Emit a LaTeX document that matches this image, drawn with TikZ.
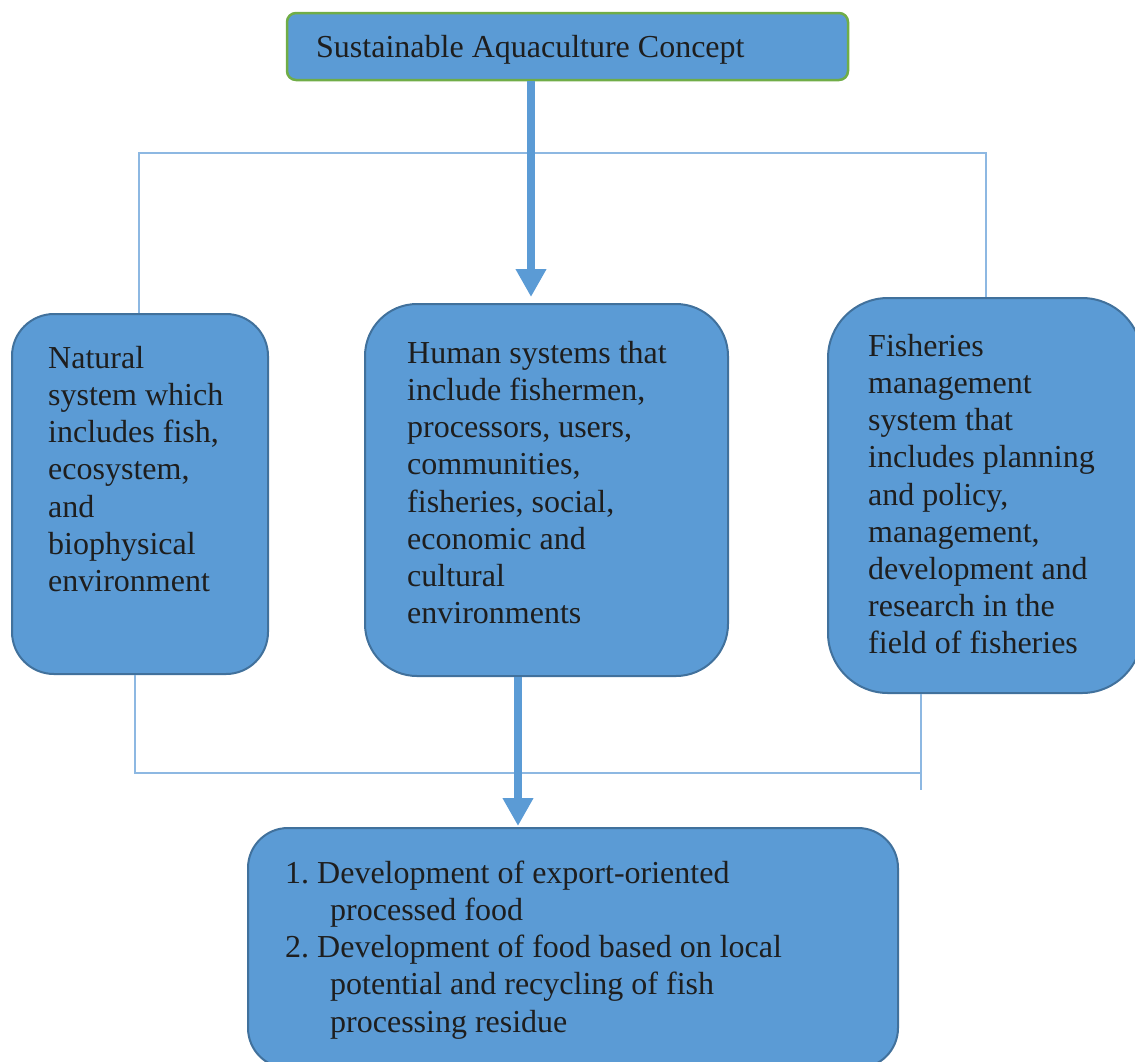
\documentclass[tikz,border=0pt]{standalone}
\usepackage{fontspec}
\setmainfont{Liberation Serif}
\usetikzlibrary{arrows.meta,calc}
\definecolor{boxfill}{HTML}{5B9BD5}
\definecolor{boxline}{HTML}{41719C}
\definecolor{topline}{HTML}{70AD47}
\definecolor{connline}{HTML}{8DB8E2}
\definecolor{txt}{HTML}{1E1E1E}
\tikzset{
  panel/.style={draw=boxline, line width=2pt, fill=boxfill, rectangle, inner sep=0pt},
  headbox/.style={draw=topline, line width=2.5pt, fill=boxfill, rectangle, rounded corners=9pt, inner sep=0pt},
  body/.style={anchor=north west, inner sep=0pt, align=left, text=txt,
    font=\fontsize{32}{37.2}\selectfont},
  conn/.style={draw=connline, line width=2pt},
  bigarrow/.style={draw=boxfill, line width=8pt, -{Triangle[width=29pt,length=28pt]}, fill=boxfill}
}
\newcommand{\firstline}{\rule{0pt}{25pt}}
\begin{document}
\begin{tikzpicture}[x=1pt,y=-1pt]
\useasboundingbox (0,0) rectangle (1135,1061);
% boxes
\node[headbox, minimum width=561pt, minimum height=67pt] (tb) at (567.5,46.5) {};
\node[panel, rounded corners=42pt, minimum width=256pt, minimum height=360pt] (lb) at (140,494) {};
\node[panel, rounded corners=52pt, minimum width=363pt, minimum height=372pt] (mb) at (546.5,490) {};
\node[panel, rounded corners=60pt, minimum width=314pt, minimum height=395pt] (rb) at (985,495.5) {};
\node[panel, rounded corners=40pt, minimum width=650pt, minimum height=240pt] (bb) at (573,948) {};
% texts
\node[anchor=base west, inner sep=0pt, text=txt, font=\fontsize{32}{37.2}\selectfont] (ttext) at (316,57) {Sustainable Aquaculture Concept};
\node[body] (ltext) at (48,343) {\firstline Natural\\ system which\\ includes fish,\\ ecosystem,\\ and\\ biophysical\\ environment};
\node[body] (mtext) at (407,338) {\firstline Human systems that\\ include fishermen,\\ processors, users,\\ communities,\\ fisheries, social,\\ economic and\\ cultural\\ environments};
\node[body] (rtext) at (868,331) {\firstline Fisheries\\ management\\ system that\\ includes planning\\ and policy,\\ management,\\ development and\\ research in the\\ field of fisheries};
\node[body] (btext) at (285,858) {\firstline 1.\ Development of export-oriented\\ \hspace*{45pt}processed food\\ 2.\ Development of food based on local\\ \hspace*{45pt}potential and recycling of fish\\ \hspace*{45pt}processing residue};
% connector anchors
\coordinate (tl) at (139,153);
\coordinate (tr) at (986,153);
\coordinate (bl) at (135,773);
\coordinate (br) at (921,773);
\coordinate (brend) at (921,790);
\coordinate (a1) at (531,0);
\coordinate (a2) at (518,0);
% thin connectors
\draw[conn] (lb.north -| tl) -- (tl) -- (tr) -- (rb.north -| tr);
\draw[conn] (lb.south -| bl) -- (bl) -- (br);
\draw[conn] (rb.south -| br) -- (brend);
% thick arrows
\draw[bigarrow] (a1 |- tb.south) -- ([yshift=6pt]a1 |- mb.north);
\draw[bigarrow] (a2 |- mb.south) -- ([yshift=1pt]a2 |- bb.north);
\end{tikzpicture}
\end{document}
